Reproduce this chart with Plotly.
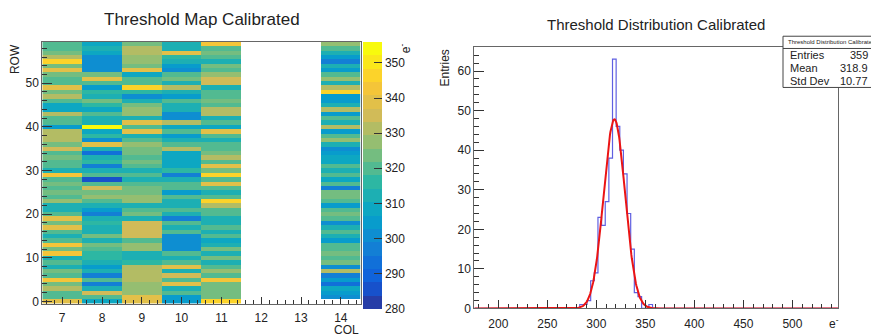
import numpy as np
import plotly.graph_objects as go

W, H = 871, 336

# ---------------- threshold map data (rows 0..59, bottom to top) ----------------
rows = list(range(60))
cols = [7, 8, 9, 10, 11, 12, 13, 14]

col7 = [337, 318, 318, 330, 324, 344, 318, 324, 313, 318,
        313, 344, 324, 344, 318, 313, 318, 337, 324, 340,
        318, 313, 313, 329, 320, 322, 318, 324, 318, 343,
        313, 318, 318, 325, 318, 336, 324, 330, 331, 331,
        306, 318, 318, 330, 310, 309, 318, 330, 325, 337,
        318, 318, 324, 337, 324, 345, 330, 325, 319, 320]
col8 = [310, 318, 336, 311, 297, 318, 297, 313, 305, 311,
        316, 316, 318, 322, 312, 322, 312, 312, 317, 311,
        297, 306, 311, 318, 328, 324, 335, 318, 284, 318,
        311, 297, 317, 312, 294, 312, 337, 299, 316, 310,
        355, 311, 311, 318, 307, 316, 324, 311, 316, 305,
        318, 338, 322, 302, 300, 299, 300, 307, 311, 309]
col9 = [337, 337, 326, 326, 326, 331, 331, 331, 331, 316,
        313, 313, 328, 328, 318, 336, 336, 336, 336, 313,
        324, 318, 313, 329, 329, 325, 325, 318, 313, 318,
        313, 318, 324, 319, 325, 325, 328, 318, 312, 340,
        318, 340, 311, 328, 327, 325, 311, 301, 317, 345,
        318, 318, 309, 338, 322, 327, 328, 330, 330, 324]
col10 = [306, 305, 318, 312, 337, 318, 335, 312, 340, 320,
         312, 318, 302, 300, 301, 300, 318, 311, 318, 298,
         311, 318, 311, 311, 318, 305, 320, 318, 312, 298,
         316, 309, 309, 309, 309, 330, 318, 312, 304, 318,
         309, 333, 301, 300, 311, 312, 318, 305, 311, 330,
         311, 322, 318, 302, 306, 311, 316, 337, 312, 311]
col11 = [346, 325, 325, 325, 324, 341, 320, 328, 318, 311,
         324, 311, 324, 311, 307, 318, 311, 318, 311, 311,
         318, 320, 330, 345, 318, 312, 320, 338, 318, 345,
         322, 338, 318, 330, 325, 318, 320, 311, 318, 339,
         310, 318, 312, 330, 330, 320, 324, 320, 318, 311,
         336, 336, 326, 320, 324, 312, 318, 325, 318, 343]
col12 = [None] * 60
col13 = [None] * 60
col14 = [None, 300, 304, 310, 295, 304, 296, 330, 300, 325,
         318, 325, 320, 318, 305, 311, 318, 311, 299, 318,
         324, 318, 304, 320, 324, 325, 298, 318, 310, 320,
         311, 318, 310, 310, 306, 302, 311, 327, 318, 303,
         332, 311, 318, 305, 330, 311, 304, 303, 348, 333,
         312, 326, 318, 305, 311, 298, 306, 311, 318, 326]

z_min, z_max, n_contours = 280, 356, 20
palette_ticks = [280, 290, 300, 310, 320, 330, 340, 350]

# ---------------- threshold distribution data ----------------
hist_low, bin_width, n_bins = 175.5, 3.71, 100
first_filled_bin = 29
filled_counts = [1, 1, 2, 7, 9, 23, 21, 27, 38, 63, 46, 40, 34, 24, 15, 4, 3, 0, 0, 1]
fit_constant, fit_mean, fit_sigma = 47.8, 318.4, 10.9
stats_rows = [("Entries", "359"), ("Mean", "318.9"), ("Std Dev", "10.77")]

# ---------------- helpers ----------------
def px(x):
    return x / W


def py(y):
    return 1 - y / H


FONT = "Liberation Sans, Arial, Helvetica, sans-serif"
INK = "#222222"

# ROOT "bird" palette stops
bird_r = [0.2082, 0.0592, 0.0780, 0.0232, 0.1802, 0.5301, 0.8186, 0.9956, 0.9764]
bird_g = [0.1664, 0.3599, 0.5041, 0.6419, 0.7178, 0.7492, 0.7328, 0.7862, 0.9832]
bird_b = [0.5293, 0.8684, 0.8385, 0.7914, 0.6425, 0.4662, 0.3499, 0.1968, 0.0539]
bird_s = np.linspace(0, 1, 9)


def bird(f):
    r = np.interp(f, bird_s, bird_r)
    g = np.interp(f, bird_s, bird_g)
    b = np.interp(f, bird_s, bird_b)
    return f"rgb({int(r*255)},{int(g*255)},{int(b*255)})"


# discrete contour bands, coloured the way ROOT picks palette entries
colorscale = []
for i in range(n_contours):
    idx = int((i + 0.99) * 255 / n_contours)
    c = bird(min(idx, 254) / 254)
    colorscale.append([i / n_contours, c])
    colorscale.append([(i + 1) / n_contours, c])

z = [[col7[r], col8[r], col9[r], col10[r], col11[r], col12[r], col13[r], col14[r]] for r in rows]

fig = go.Figure()

fig.add_trace(go.Heatmap(
    x=cols, y=rows, z=z, zmin=z_min, zmax=z_max,
    colorscale=colorscale, hoverongaps=False,
    xaxis="x", yaxis="y",
    colorbar=dict(
        x=px(362.5), xanchor="left", xpad=0,
        y=py(42.7), yanchor="top", ypad=0,
        len=267.3, lenmode="pixels",
        thickness=19, thicknessmode="pixels",
        outlinewidth=0,
        tickvals=palette_ticks, ticks="inside", ticklen=8,
        tickcolor="#333", tickwidth=1,
        tickfont=dict(family=FONT, size=12, color=INK),
    ),
))

# histogram outline
counts = [0] * n_bins
for k, v in enumerate(filled_counts):
    counts[first_filled_bin + k] = v
edges = [hist_low + bin_width * k for k in range(n_bins + 1)]
fig.add_trace(go.Scatter(
    x=edges, y=counts + [counts[-1]], mode="lines", line_shape="hv",
    line=dict(color="rgb(95,95,225)", width=1.2),
    xaxis="x2", yaxis="y2", hoverinfo="skip",
))

# gaussian fit
fx = np.linspace(edges[0], edges[-1], 800)
fy = fit_constant * np.exp(-0.5 * ((fx - fit_mean) / fit_sigma) ** 2)
fig.add_trace(go.Scatter(
    x=fx, y=fy, mode="lines", line=dict(color="rgb(235,20,20)", width=2),
    xaxis="x2", yaxis="y2", hoverinfo="skip",
))

axis_common = dict(
    showgrid=False, zeroline=False, showline=True, linecolor="#666",
    linewidth=1, mirror=True, ticks="inside", tickcolor="#333",
    tickfont=dict(family=FONT, size=12, color=INK),
)

fig.update_layout(
    width=W, height=H,
    margin=dict(l=0, r=0, t=0, b=0),
    paper_bgcolor="white", plot_bgcolor="white",
    showlegend=False,
    font=dict(family=FONT, color=INK),
    xaxis=dict(domain=[px(42.3), px(360.7)], range=[6.5, 14.5],
               tickvals=[7, 8, 9, 10, 11, 12, 13, 14], ticklen=7,
               ticklabelstandoff=3,
               minor=dict(ticks="inside", ticklen=4, tick0=6.6, dtick=0.2, tickcolor="#333"),
               anchor="y", **axis_common),
    yaxis=dict(domain=[py(310), py(42.7)], range=[-0.5, 59.5],
               tickvals=[0, 10, 20, 30, 40, 50], ticklen=10,
               minor=dict(ticks="inside", ticklen=5, tick0=0, dtick=2, tickcolor="#333"),
               anchor="x", **axis_common),
    xaxis2=dict(domain=[px(474.3), px(838)], range=[edges[0], edges[-1]],
                tickvals=[200, 250, 300, 350, 400, 450, 500], ticklen=8,
                ticklabelstandoff=4,
                minor=dict(ticks="inside", ticklen=4, tick0=180, dtick=10, tickcolor="#333"),
                anchor="y2", **axis_common),
    yaxis2=dict(domain=[py(315), py(47.7)], range=[0, 66.15],
                tickvals=[0, 10, 20, 30, 40, 50, 60], ticklen=10,
                minor=dict(ticks="inside", ticklen=5, tick0=0, dtick=2, tickcolor="#333"),
                anchor="x2", **axis_common),
)

annotations = [
    dict(text="Threshold Map Calibrated", x=px(202), y=py(20), size=17),
    dict(text="Threshold Distribution Calibrated", x=px(655.5), y=py(25), size=15),
    dict(text="ROW", x=px(15), y=py(43), size=12, textangle=-90, yanchor="top"),
    dict(text="COL", x=px(361), y=py(337), size=12, xanchor="right", height=10),
    dict(text="Entries", x=px(445), y=py(48), size=12, textangle=-90, yanchor="top"),
    dict(text="e<sup>-</sup>", x=px(834), y=py(330), size=12),
    dict(text="e<sup>-</sup>", x=px(405), y=py(42), size=12, textangle=-90, yanchor="top"),
]
for a in annotations:
    fig.add_annotation(
        text=a["text"], x=a["x"], y=a["y"], xref="paper", yref="paper",
        showarrow=False, textangle=a.get("textangle", 0),
        xanchor=a.get("xanchor", "center"), yanchor=a.get("yanchor", "middle"),
        height=a.get("height"),
        font=dict(family=FONT, size=a["size"], color=INK),
    )

# statistics box
fig.add_shape(type="rect", xref="paper", yref="paper",
              x0=px(783), x1=px(885), y0=py(89.3), y1=py(37),
              fillcolor="white", line=dict(color="#444", width=1), layer="above")
fig.add_shape(type="line", xref="paper", yref="paper",
              x0=px(783), x1=px(885), y0=py(49.5), y1=py(49.5),
              line=dict(color="#444", width=1), layer="above")
fig.add_annotation(text="Threshold Distribution Calibrated", x=px(785.5), y=py(43.3),
                   xref="paper", yref="paper", showarrow=False, xanchor="left", yanchor="middle",
                   font=dict(family=FONT, size=6, color=INK))
for i, (label, value) in enumerate(stats_rows):
    yy = py(56 + 13.6 * i)
    fig.add_annotation(text=label, x=px(787.5), y=yy, xref="paper", yref="paper",
                       showarrow=False, xanchor="left", yanchor="middle",
                       font=dict(family=FONT, size=11, color=INK))
    fig.add_annotation(text=value, x=px(869.5), y=yy, xref="paper", yref="paper",
                       showarrow=False, xanchor="right", yanchor="middle",
                       font=dict(family=FONT, size=11, color=INK))

fig.write_html("out.html")
